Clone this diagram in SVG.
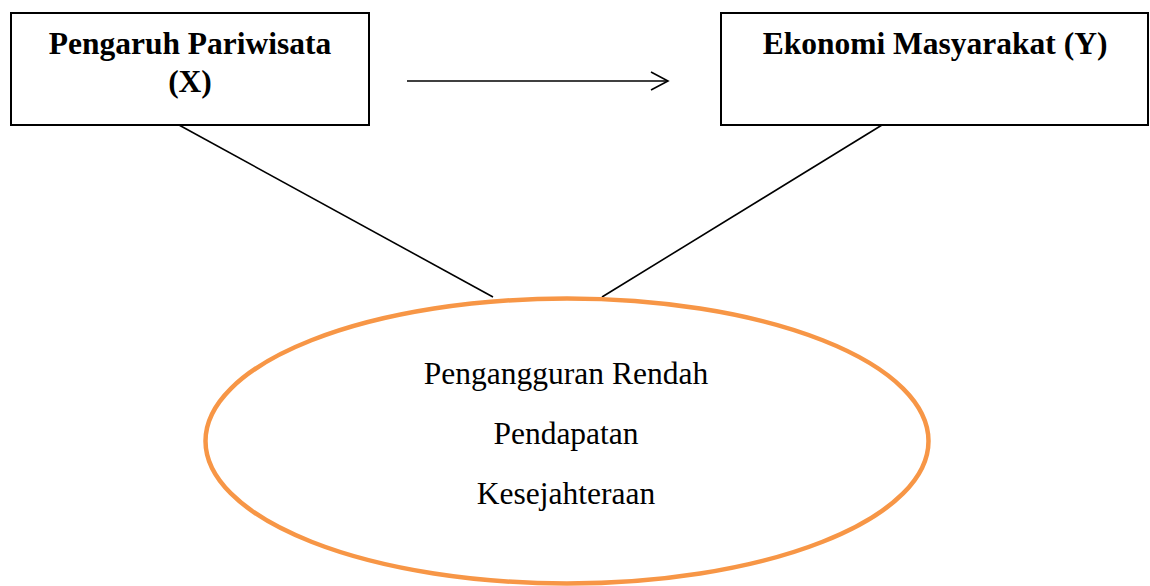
<svg xmlns="http://www.w3.org/2000/svg" width="1150" height="586" viewBox="0 0 1150 586">
<style>
.box{fill:#fff;stroke:#000;stroke-width:2}
.conn{stroke:#000;stroke-width:1.6;fill:none}
.bt{font-family:"Liberation Serif","Times New Roman",serif;font-weight:bold;font-size:31.5px;fill:#000;text-anchor:middle}
.et{font-family:"Liberation Serif","Times New Roman",serif;font-size:31.5px;fill:#000;text-anchor:middle}
</style>
<rect width="1150" height="586" fill="#fff"/>
<g id="connectors">
<line class="conn" x1="179" y1="125" x2="493" y2="297"/>
<line class="conn" x1="882" y1="125" x2="602" y2="297"/>
<line class="conn" x1="407" y1="81" x2="667" y2="81"/>
<polyline class="conn" points="651,72 668,81 651,90"/>
</g>
<g id="nodeX">
<rect class="box" x="11" y="13" width="358" height="112"/>
<text class="bt" x="190" y="53.5">Pengaruh Pariwisata</text>
<text class="bt" x="190" y="91.5">(X)</text>
</g>
<g id="nodeY">
<rect class="box" x="721" y="13" width="427" height="112"/>
<text class="bt" x="935" y="53.5">Ekonomi Masyarakat (Y)</text>
</g>
<g id="nodeIndicators">
<ellipse cx="567" cy="441" rx="361.5" ry="142.5" fill="#fff" stroke="#F79646" stroke-width="4.5"/>
<text class="et" x="566" y="383.5">Pengangguran Rendah</text>
<text class="et" x="566" y="443.5">Pendapatan</text>
<text class="et" x="566" y="503.5">Kesejahteraan</text>
</g>
</svg>
